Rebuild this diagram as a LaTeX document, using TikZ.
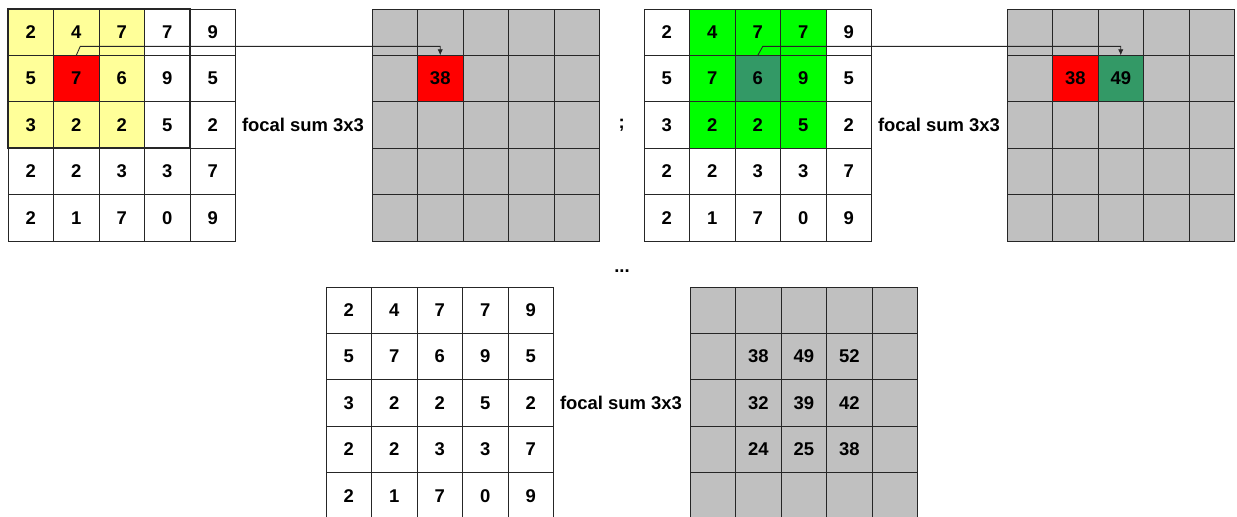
\documentclass[tikz,border=0pt]{standalone}
\usepackage{fontspec}
\setmainfont{Liberation Sans}
\usetikzlibrary{arrows.meta,positioning,calc,backgrounds}
\definecolor{cellyellow}{HTML}{FFFF99}
\definecolor{cellred}{HTML}{FF0000}
\definecolor{cellgreen}{HTML}{00FF00}
\definecolor{cellteal}{HTML}{339966}
\definecolor{cellgray}{HTML}{C0C0C0}
\definecolor{gridline}{HTML}{262626}
\newcommand{\rastervals}{{2,4,7,7,9},{5,7,6,9,5},{3,2,2,5,2},{2,2,3,3,7},{2,1,7,0,9}}

\begin{document}
\begin{tikzpicture}[
  x=0.02cm, y=-0.02cm,
  font=\fontsize{10.5}{12}\selectfont\bfseries,
  cell/.style={
    draw=gridline,
    line width=0.5pt,
    minimum width=0.91cm,
    minimum height=0.928cm,
    inner sep=0pt,
    outer sep=0pt
  },
  window/.style={draw=gridline, line width=1.1pt},
  label/.style={inner sep=3.5pt},
  link/.style={-{Latex[length=3.5pt,width=3pt]}, gridline, line width=0.5pt}
]
\useasboundingbox (0,0) rectangle (1237,517);

% input rasters
\foreach \vals [count=\r from 0] in \rastervals
  \foreach \v [count=\c from 0] in \vals {
    \node[cell] (a-\r-\c) at ({8+(\c+0.5)*45.5},{9+(\r+0.5)*46.4}) {\v};
    \node[cell] (c-\r-\c) at ({644+(\c+0.5)*45.5},{9+(\r+0.5)*46.4}) {\v};
    \node[cell] (e-\r-\c) at ({326+(\c+0.5)*45.5},{287+(\r+0.5)*46.4}) {\v};
  }

% output rasters
\foreach \r in {0,...,4}
  \foreach \c in {0,...,4} {
    \node[cell] (b-\r-\c) at ({372+(\c+0.5)*45.5},{9+(\r+0.5)*46.4}) {};
    \node[cell] (d-\r-\c) at ({1007+(\c+0.5)*45.5},{9+(\r+0.5)*46.4}) {};
    \node[cell] (f-\r-\c) at ({690+(\c+0.5)*45.5},{287+(\r+0.5)*46.4}) {};
  }

\node (b-val-1-1) at (b-1-1) {38};
\node (d-val-1-1) at (d-1-1) {38};
\node (d-val-1-2) at (d-1-2) {49};
\foreach \r/\c/\v in {1/1/38,1/2/49,1/3/52,2/1/32,2/2/39,2/3/42,3/1/24,3/2/25,3/3/38}
  \node (f-val-\r-\c) at (f-\r-\c) {\v};

\begin{scope}[on background layer]
  \fill[cellyellow] (a-0-0.north west) rectangle (a-2-2.south east);
  \fill[cellred] (a-1-1.north west) rectangle (a-1-1.south east);
  \fill[cellgray] (b-0-0.north west) rectangle (b-4-4.south east);
  \fill[cellred] (b-1-1.north west) rectangle (b-1-1.south east);
  \fill[cellgreen] (c-0-1.north west) rectangle (c-2-3.south east);
  \fill[cellteal] (c-1-2.north west) rectangle (c-1-2.south east);
  \fill[cellgray] (d-0-0.north west) rectangle (d-4-4.south east);
  \fill[cellred] (d-1-1.north west) rectangle (d-1-1.south east);
  \fill[cellteal] (d-1-2.north west) rectangle (d-1-2.south east);
  \fill[cellgray] (f-0-0.north west) rectangle (f-4-4.south east);
\end{scope}

\draw[window] (a-0-0.north west) rectangle (a-2-3.south east);
\draw[window] (a-0-3.north west) -- (a-2-3.south west);

\node[label, right=0pt of a-2-4] (sum-a) {focal sum 3x3};
\node[label, right=0pt of c-2-4] (sum-c) {focal sum 3x3};
\node[label, right=0pt of e-2-4] (sum-e) {focal sum 3x3};
\node[label] (semi) at ($(b-2-4.east)!0.5!(c-2-0.west)$) {;};
\node[label] (dots) at (622,271) {...};

\draw[link] (a-1-1.north) -- ++(4,-9) -| (b-1-1.north);
\draw[link] (c-1-2.north) -- ++(5,-9) -| (d-1-2.north);

\end{tikzpicture}
\end{document}
